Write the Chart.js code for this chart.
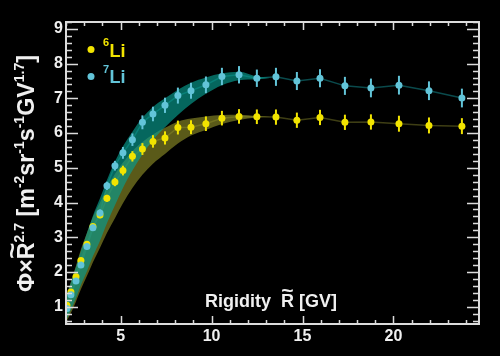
<!DOCTYPE html>
<html><head><meta charset="utf-8">
<script src="https://cdn.jsdelivr.net/npm/chart.js@4.4.0/dist/chart.umd.min.js"></script>
<style>html,body{margin:0;padding:0;background:#000;}#wrap{width:500px;height:356px;}</style>
</head><body><div id="wrap"><canvas id="c" width="500" height="356"></canvas></div>
<script>
// ---- data ----
const rigidity = [2.05,2.27,2.55,2.82,3.15,3.48,3.87,4.25,4.69,5.13,5.65,6.20,6.78,7.44,8.15,8.87,9.69,10.57,11.51,12.49,13.54,14.69,15.96,17.33,18.76,20.30,21.95,23.76];
const li6Flux = [1.04,1.42,1.86,2.33,2.80,3.31,3.64,4.12,4.59,4.92,5.33,5.54,5.76,5.86,6.16,6.17,6.27,6.43,6.48,6.47,6.46,6.37,6.45,6.31,6.32,6.27,6.22,6.20];
const li6Err  = [0.05,0.05,0.06,0.06,0.07,0.08,0.09,0.10,0.12,0.14,0.15,0.17,0.18,0.19,0.20,0.20,0.21,0.21,0.21,0.21,0.22,0.22,0.22,0.22,0.22,0.23,0.23,0.23];
const li7Flux = [0.95,1.34,1.74,2.20,2.73,3.27,3.70,4.48,5.06,5.43,5.81,6.31,6.55,6.80,7.08,7.22,7.39,7.63,7.68,7.58,7.62,7.50,7.58,7.36,7.30,7.38,7.22,7.01];
const li7Err  = [0.05,0.06,0.07,0.07,0.08,0.09,0.10,0.12,0.14,0.17,0.18,0.20,0.21,0.22,0.23,0.23,0.24,0.25,0.25,0.25,0.26,0.26,0.26,0.26,0.27,0.27,0.27,0.27];
const bandR     = [1.95,2.27,2.55,2.82,3.15,3.48,3.87,4.25,4.69,5.13,5.65,6.20,6.78,7.44,8.15,8.87,9.69,10.57,11.51,12.49,13.2];
const li6BandLo = [0.50,0.82,1.15,1.50,1.88,2.28,2.70,3.12,3.55,3.98,4.42,4.80,5.12,5.40,5.70,5.93,6.09,6.26,6.38,6.45,6.46];
const li6BandHi = [1.20,1.72,2.18,2.65,3.12,3.58,4.00,4.42,4.82,5.15,5.48,5.74,5.96,6.15,6.33,6.42,6.48,6.52,6.53,6.49,6.46];
const li7BandLo = [0.55,0.90,1.25,1.62,2.02,2.45,2.90,3.40,3.92,4.42,4.92,5.38,5.80,6.17,6.52,6.84,7.13,7.38,7.52,7.55,7.59];
const li7BandHi = [1.15,1.70,2.15,2.60,3.12,3.62,4.12,4.65,5.18,5.62,6.04,6.44,6.75,7.00,7.25,7.45,7.60,7.72,7.77,7.63,7.59];
const xTickLabels = [5,10,15,20];
const yTickLabels = [1,2,3,4,5,6,7,8,9];

const YEL = '#f2e400', CYA = '#62c4d8';
const FONT = '"Liberation Sans", Arial, sans-serif';
const pts = (xs, ys) => xs.map((x,i)=>({x, y: ys[i]}));

const bgPlugin = {id:'bg', beforeDraw(c){const g=c.ctx; g.save(); g.fillStyle='#000'; g.fillRect(0,0,c.width,c.height); g.restore();}};

const errorBars = {
  id:'errorBars',
  beforeDatasetDraw(chart, args){
    const ds = chart.data.datasets[args.index];
    if(!ds.errors) return;
    const g = chart.ctx, xs = chart.scales.x, ys = chart.scales.y;
    g.save(); g.strokeStyle = ds.backgroundColor; g.lineWidth = 2;
    ds.data.forEach((p,i)=>{
      const e = ds.errors[i], px = xs.getPixelForValue(p.x);
      g.beginPath(); g.moveTo(px, ys.getPixelForValue(p.y-e)); g.lineTo(px, ys.getPixelForValue(p.y+e)); g.stroke();
    });
    g.restore();
  }
};

function drawRich(g, pieces, S){
  let x = 0; const pos = [];
  pieces.forEach(p=>{
    const sz = p.sup ? S*0.6 : S;
    g.font = `bold ${sz}px ${FONT}`;
    const w = g.measureText(p.t).width;
    pos.push({p, x, w, sz});
    x += w;
  });
  return {pos, total:x};
}
function renderRich(g, layout, S, color){
  g.fillStyle = color; g.textBaseline = 'alphabetic'; g.textAlign = 'left';
  layout.pos.forEach(o=>{
    g.font = `bold ${o.sz}px ${FONT}`;
    g.fillText(o.p.t, o.x, o.p.sup ? -S*0.42 : 0);
    if(o.p.tilde){
      const rw = g.measureText('R').width;
      const rx = o.x + o.w - rw/2;
      g.save();
      g.font = `bold ${S}px ${FONT}`;
      const m = g.measureText('~');
      const tw = m.width;
      const desc = m.actualBoundingBoxDescent;
      const dy = -(S*0.716 + S*0.14) - desc;
      g.translate(rx, dy);
      g.scale(rw*0.95/tw, 1);
      g.textAlign = 'center';
      g.fillText('~', 0, 0);
      g.restore();
    }
  });
}

const textPlugin = {
  id:'texts',
  afterDraw(chart){
    const g = chart.ctx, a = chart.chartArea, xs = chart.scales.x, ys = chart.scales.y;
    g.save();
    g.strokeStyle = '#dcdcdc'; g.lineWidth = 2;
    g.strokeRect(a.left, a.top, a.right-a.left, a.bottom-a.top);
    g.lineWidth = 1.5;
    for(let v=Math.ceil(xs.min); v<=xs.max; v++){
      const px = Math.round(xs.getPixelForValue(v))+0.5;
      const L = (v%5===0) ? 8 : 4;
      g.beginPath(); g.moveTo(px, a.bottom); g.lineTo(px, a.bottom-L);
      g.moveTo(px, a.top); g.lineTo(px, a.top+L); g.stroke();
    }
    for(let k=Math.ceil(ys.min*5+1e-9); k<=Math.floor(ys.max*5+1e-9); k++){
      const v = k/5;
      const py = Math.round(ys.getPixelForValue(v))+0.5;
      const L = (k%5===0) ? 12 : 6;
      g.beginPath(); g.moveTo(a.left, py); g.lineTo(a.left+L, py);
      g.moveTo(a.right, py); g.lineTo(a.right-L, py); g.stroke();
    }
    const S0 = 22;
    const yPieces = [{t:'Φ×R', tilde:true},{t:'2.7',sup:true},{t:' [m'},{t:'-2',sup:true},{t:'sr'},{t:'-1',sup:true},{t:'s'},{t:'-1',sup:true},{t:'GV'},{t:'1.7',sup:true},{t:']'}];
    let lay = drawRich(g, yPieces, S0);
    const S = S0*237/lay.total;
    lay = drawRich(g, yPieces, S);
    g.save();
    g.translate(34, 173.5 + lay.total/2);
    g.rotate(-Math.PI/2);
    renderRich(g, lay, S, '#f0f0f0');
    g.restore();
    const xPieces = [{t:'Rigidity  R', tilde:true},{t:' [GV]'}];
    const lx = drawRich(g, xPieces, 18);
    g.save(); g.translate(205, 307); renderRich(g, lx, 18, '#f0f0f0'); g.restore();
    const leg = [{c:YEL, sup:'6', y:49.5, base:56.7},{c:CYA, sup:'7', y:76.5, base:83}];
    leg.forEach(l=>{
      g.fillStyle = l.c;
      g.beginPath(); g.arc(91, l.y, 3.5, 0, Math.PI*2); g.fill();
      g.textAlign='left'; g.textBaseline='alphabetic';
      g.font = `bold 11px ${FONT}`; g.fillText(l.sup, 103, l.base-10.5);
      g.font = `bold 18px ${FONT}`; g.fillText('Li', 109.5, l.base);
    });
    g.restore();
  }
};

const cfg = {
  type:'scatter',
  data:{datasets:[
    {label:'7Li', data:pts(rigidity, li7Flux), errors:li7Err, backgroundColor:CYA, pointRadius:3.5, pointBorderWidth:0, showLine:false, order:0},
    {label:'6Li', data:pts(rigidity, li6Flux), errors:li6Err, backgroundColor:YEL, pointRadius:3.5, pointBorderWidth:0, showLine:false, order:1},
    {label:'7lo', data:pts(bandR, li7BandLo), showLine:true, borderWidth:0, pointRadius:0, fill:false, cubicInterpolationMode:'monotone', order:3},
    {label:'7hi', data:pts(bandR, li7BandHi), showLine:true, borderWidth:0, pointRadius:0, fill:'-1', backgroundColor:'rgba(8,156,142,0.66)', cubicInterpolationMode:'monotone', order:3},
    {label:'6lo', data:pts(bandR, li6BandLo), showLine:true, borderWidth:0, pointRadius:0, fill:false, cubicInterpolationMode:'monotone', order:5},
    {label:'6hi', data:pts(bandR, li6BandHi), showLine:true, borderWidth:0, pointRadius:0, fill:'-1', backgroundColor:'rgba(150,150,42,0.6)', cubicInterpolationMode:'monotone', order:5},
    {label:'7line', data:pts(rigidity, li7Flux), showLine:true, borderColor:'#0a4a4c', borderWidth:1.5, pointRadius:0, fill:false, order:6},
    {label:'6line', data:pts(rigidity, li6Flux), showLine:true, borderColor:'#3e3e14', borderWidth:1.5, pointRadius:0, fill:false, order:7}
  ]},
  options:{
    responsive:false, animation:false, events:[],
    layout:{padding:{top:22, right:21, left:0, bottom:0}},
    plugins:{legend:{display:false}, tooltip:{enabled:false}},
    scales:{
      x:{type:'linear', min:2, max:24.7,
         grid:{display:false, drawTicks:false}, border:{display:false},
         afterBuildTicks:s=>{s.ticks = xTickLabels.map(v=>({value:v}));},
         afterFit:s=>{s.height = 32;},
         ticks:{color:'#f0f0f0', font:{family:FONT, size:16, weight:'bold'}, padding:3, maxRotation:0}},
      y:{type:'linear', min:0.5, max:9.2,
         grid:{display:false, drawTicks:false}, border:{display:false},
         afterBuildTicks:s=>{s.ticks = yTickLabels.map(v=>({value:v}));},
         afterFit:s=>{s.width = 66;},
         ticks:{color:'#f0f0f0', font:{family:FONT, size:16, weight:'bold'}, padding:3}}
    }
  },
  plugins:[bgPlugin, errorBars, textPlugin]
};
new Chart(document.getElementById('c'), cfg);
</script></body></html>
